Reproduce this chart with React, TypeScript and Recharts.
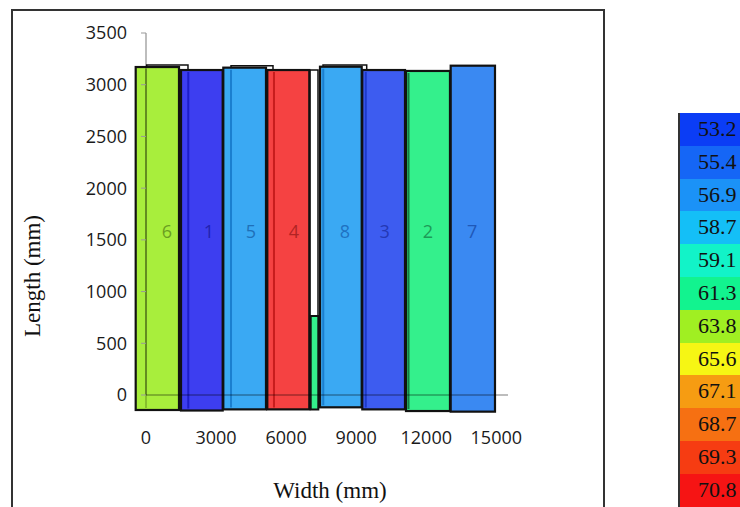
import React from "react";
import { ComposedChart, XAxis, YAxis, ReferenceArea, Scatter } from "recharts";

// panels (front faces)
const panelIds = ["6", "1", "5", "4", "8", "3", "2", "7"];
const panelX0 = [-441, 1499, 3310, 5194, 7450, 9261, 11133, 13046];
const panelX1 = [1413, 3284, 5138, 6992, 9236, 11090, 13016, 14943];
const panelTop = [3171, 3142, 3165, 3142, 3174, 3142, 3133, 3184];
const panelBottom = [-145, -150, -139, -139, -119, -139, -155, -161];
const panelFill = ["#a8ee3c", "#3d3ef0", "#3aa9f3", "#f54242", "#3aa9f3", "#3d5cf0", "#34f08c", "#3a89f2"];
const labelColor = ["#6b9e22", "#2222b0", "#1f70b8", "#b02424", "#1f72c2", "#2438b5", "#1d9a57", "#1f58b8"];
const labelX = [899, 2698, 4496, 6338, 8513, 10220, 12070, 13960];
const labelY = 1576;

// inner edge of each panel seen through the face (null = none)
const edgeX = [0, 1810, 3640, 5480, 7590, 9410, 11240, null];
const edgeColor = ["#86bf2c", "#1d1dc8", "#1b7fcf", "#c81d1d", "#1b7fcf", "#1d3ac8", "#167a44", null];

// back faces (white, offset)
const backX0 = [30, 3640, 7579, 7022];
const backX1 = [1798, 5438, 9450, 7365];
const backTop = [3190, 3184, 3190, 3142];
const backBottom = [0, 0, 0, 760];

// small strip panel
const stripX0 = 7052;
const stripX1 = 7378;
const stripTop = 764;
const stripBottom = -139;

const xTicks = [0, 3000, 6000, 9000, 12000, 15000];
const yTicks = [0, 500, 1000, 1500, 2000, 2500, 3000, 3500];

// colour scale
const scaleValues = ["53.2", "55.4", "56.9", "58.7", "59.1", "61.3", "63.8", "65.6", "67.1", "68.7", "69.3", "70.8"];
const scaleColors = ["#0b3df5", "#1566f6", "#1b92f7", "#14bff7", "#12f3c8", "#12f38f", "#a0ef22", "#f6f614", "#f69c12", "#f67012", "#f63c12", "#f61414"];

const labelData = panelIds.map((id, i) => ({ x: labelX[i], y: labelY, id, color: labelColor[i] }));

const tickFont = { fontFamily: "'Open Sans', sans-serif", fontSize: 18, fill: "#1a1a1a" };

function PanelLabel(props: any) {
  const { cx, cy, payload } = props;
  return (
    <text x={cx} y={cy} dy={6} textAnchor="middle" fontFamily="'Open Sans', sans-serif" fontSize={18} fill={payload.color}>
      {payload.id}
    </text>
  );
}

function makePanelShape(i: number) {
  const ex = edgeX[i];
  const frac = ex == null ? null : (ex - panelX0[i]) / (panelX1[i] - panelX0[i]);
  return (p: any) => {
    const { x, y, width, height } = p;
    const lx = frac == null ? 0 : x + frac * width;
    return (
      <g>
        <rect x={x} y={y} width={width} height={height} fill={panelFill[i]} />
        {frac != null && <line x1={lx} x2={lx} y1={y + 2} y2={y + height - 2} stroke={edgeColor[i] as string} strokeWidth={2} />}
        <rect x={x} y={y} width={width} height={height} fill="none" stroke="#111" strokeWidth={2.2} />
      </g>
    );
  };
}

export default function App() {
  return (
    <div style={{ position: "absolute", left: 0, top: 0, width: 740, height: 507, overflow: "hidden", background: "#fff" }}>
      <div style={{ position: "absolute", left: 11, top: 9, width: 590, height: 520, border: "2px solid #333" }} />
      <ComposedChart width={740} height={507} margin={{ top: 33, right: 232, bottom: 52, left: 0 }} style={{ position: "absolute", left: 0, top: 0 }}>
        <XAxis
          type="number"
          dataKey="x"
          domain={[0, 15500]}
          ticks={xTicks}
          tickLine={false}
          tickMargin={30}
          height={60}
          axisLine={{ stroke: "rgba(0,0,0,0.35)", strokeWidth: 1.5 }}
          tick={tickFont}
          allowDataOverflow
        />
        <YAxis
          type="number"
          dataKey="y"
          domain={[0, 3500]}
          ticks={yTicks}
          width={146}
          tickSize={5}
          tickMargin={14}
          tickLine={{ stroke: "#999" }}
          axisLine={{ stroke: "rgba(0,0,0,0.35)", strokeWidth: 1.5 }}
          tick={tickFont}
          allowDataOverflow
        />
        {backX0.map((x0, i) => (
          <ReferenceArea key={"b" + i} x1={x0} x2={backX1[i]} y1={backBottom[i]} y2={backTop[i]} fill="#fff" fillOpacity={1} stroke="#111" strokeWidth={1.5} ifOverflow="visible" />
        ))}
        {panelIds.map((id, i) => (
          <ReferenceArea key={"p" + id} x1={panelX0[i]} x2={panelX1[i]} y1={panelBottom[i]} y2={panelTop[i]} fillOpacity={1} ifOverflow="visible" shape={makePanelShape(i)} />
        ))}
        <ReferenceArea x1={stripX0} x2={stripX1} y1={stripBottom} y2={stripTop} fill="#34f08c" fillOpacity={1} stroke="#111" strokeWidth={2} ifOverflow="visible" />
        <Scatter data={labelData} dataKey="y" shape={PanelLabel} isAnimationActive={false} />
      </ComposedChart>
      <div
        style={{
          position: "absolute",
          left: 33,
          top: 276,
          transform: "translate(-50%, -50%) rotate(-90deg)",
          fontFamily: "'Liberation Serif', 'Times New Roman', serif",
          fontSize: 23,
          color: "#111",
          whiteSpace: "nowrap",
        }}
      >
        Length (mm)
      </div>
      <div
        style={{
          position: "absolute",
          left: 330,
          top: 491,
          transform: "translate(-50%, -50%)",
          fontFamily: "'Liberation Serif', 'Times New Roman', serif",
          fontSize: 23,
          color: "#111",
          whiteSpace: "nowrap",
        }}
      >
        Width (mm)
      </div>
      <div style={{ position: "absolute", left: 678, top: 113, width: 80, borderLeft: "2px solid #333" }}>
        {scaleValues.map((v, i) => (
          <div
            key={v}
            style={{
              height: 32.8,
              background: scaleColors[i],
              fontFamily: "'Liberation Serif', 'Times New Roman', serif",
              fontSize: 22,
              lineHeight: "32.8px",
              paddingLeft: 18,
              color: "#111",
            }}
          >
            {v}
          </div>
        ))}
      </div>
    </div>
  );
}
